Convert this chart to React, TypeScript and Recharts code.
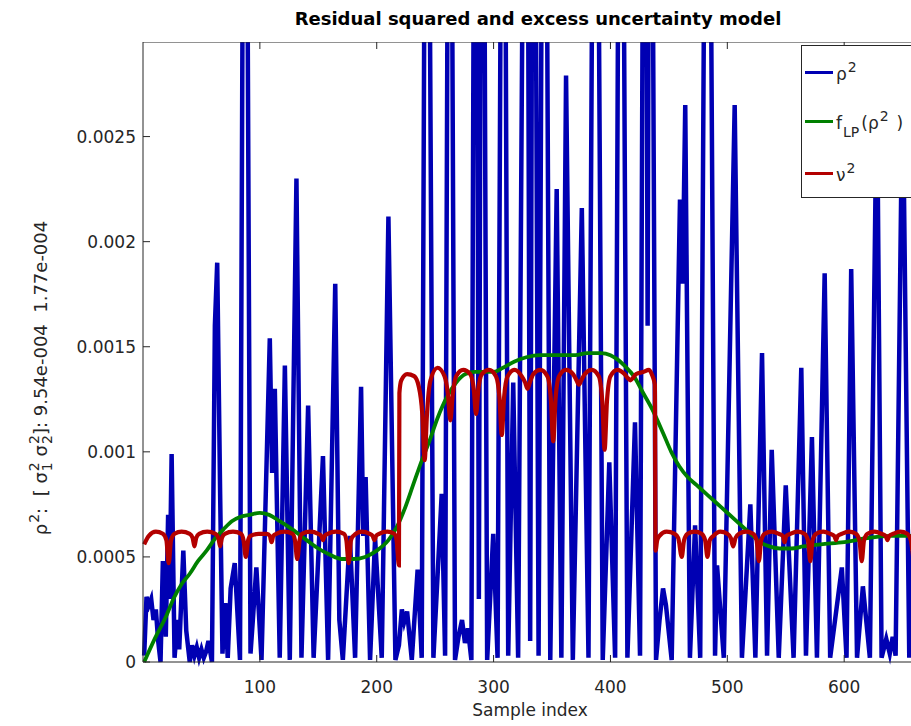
import React from "react";
import { LineChart, Line, XAxis, YAxis } from "recharts";

const FONT = "'DejaVu Sans', sans-serif";
const INK = "#262626";
const BLUE = "#0000b3";
const GREEN = "#008000";
const RED = "#b30000";

const xTicks = [100, 200, 300, 400, 500, 600];
const yTicks = [0, 0.0005, 0.001, 0.0015, 0.002, 0.0025];

// rho^2: [sample index, value], peaks and troughs of the residual
const rhoSqA = [
  [1, 0.00003], [3, 0.00031], [5, 0.00027], [7, 0.0003], [9, 0.0002], [11, 0.00025],
  [13, 0.0001], [15, 0.0], [17, 0.00048], [19.5, 0.00012], [21.5, 0.0007], [22.7, 0.0003],
  [24.5, 0.00099], [27, 0.00002], [29.5, 0.0002], [31, 0.00006], [34.5, 0.00053], [37, 0.00015],
  [40, 0.0], [42, 0.00008], [44, 0.00003], [46, 0.00007], [48, 0.00002], [50, 0.00006],
  [52, 0.00002], [54, 0.00005], [56, 0.0001], [59, 0.0], [61.5, 0.0016], [63.5, 0.0019],
  [66, 0.0008], [68, 0.00004], [70.5, 0.00028], [72.5, 0.00002], [75, 0.00035], [78.5, 0.00047],
  [83, 0.00001], [87.2, 0.006], [92, 0.00004], [94, 0.0002], [97, 0.00045], [101.4, 0.00001],
  [108.5, 0.00154], [110.5, 0.0009], [112.8, 0.0013], [117, 0.00002], [121.4, 0.00141],
  [125.6, 0.00001], [131.3, 0.0023], [135.6, 0.00002], [141.3, 0.00122], [146, 0.00002],
  [154, 0.00098], [158.4, 0.00001], [164.5, 0.0018],
];
const rhoSqB = [
  [168, 0.0002], [171, 0.00001], [177, 0.0006], [181.5, 0.00002], [186.6, 0.00131],
  [188.5, 0.0006], [190.5, 0.00088], [194.3, 0.00001], [198.6, 0.00059], [204.3, 0.00002],
  [210, 0.00212], [216, 0.00001], [219, 0.00008], [221.5, 0.00025], [223.5, 0.00019],
  [226, 0.00024], [230, 0.00001], [235, 0.00044], [238.5, 0.00002], [242.7, 0.006],
  [248.5, 0.00002], [255.6, 0.0008], [258.5, 0.00003], [262.4, 0.006], [267, 0.00001],
  [270, 0.00012], [273, 0.0002], [275.5, 0.00009], [278, 0.00016], [281, 0.00001],
  [284.6, 0.006], [287.4, 0.0003], [290.3, 0.006], [294.5, 0.00001], [299.7, 0.00061],
  [303.4, 0.00002], [308.3, 0.006], [312.5, 0.00003], [316.8, 0.00133], [321, 0.00002],
];
const rhoSqC = [
  [328, 0.006], [331.3, 0.0001], [334.2, 0.006], [338.5, 0.00003], [343.3, 0.006],
  [348.5, 0.00001], [354, 0.00225], [358, 0.00002], [362, 0.00279], [367.8, 0.00001],
  [375.5, 0.00216], [381.2, 0.00002], [387, 0.006], [393.4, 0.00001], [399, 0.00095],
  [404, 0.00002], [408.8, 0.006], [414.5, 0.00002], [421, 0.00114], [425.3, 0.00003],
  [429.6, 0.006], [431.8, 0.0016], [434, 0.006], [439, 0.00001], [442, 0.0002], [445, 0.00035],
  [447.5, 0.00027], [452.4, 0.00001], [459.5, 0.0022], [461.8, 0.0018], [464, 0.00265],
  [468, 0.00002], [472.4, 0.00065], [476.8, 0.00002], [483, 0.006], [489.5, 0.00003],
];
const rhoSqD = [
  [491.2, 0.00046], [497, 0.00002], [506.3, 0.00265], [512.5, 0.00002], [519.7, 0.00075],
  [524, 0.00002], [529.7, 0.00147], [534, 0.00003], [538, 0.00101], [544, 0.00002],
  [550, 0.00084], [556.7, 0.00002], [563.3, 0.0014], [567.3, 0.00003], [572.4, 0.00107],
  [576.7, 0.00002], [583.3, 0.00185], [588, 0.00002], [598, 0.00045], [602, 0.00002],
  [606, 0.00187], [611, 0.00002], [616, 0.00036], [622, 0.00002], [628, 0.0028], [632, 0.00002],
  [636, 0.00011], [639, 0.00004], [641.5, 0.00012], [644, 0.00003], [650, 0.0028],
  [655.7, 0.00002], [660, 0.0008],
];

// low-pass filtered rho^2
const fLpCurve = [
  [1, 0], [10, 0.00011], [20, 0.00022], [26, 0.0003], [33, 0.00037], [40, 0.00042],
  [47, 0.00048], [54.4, 0.00053], [62, 0.00059], [68.7, 0.00063], [76, 0.00067], [83, 0.00069],
  [91, 0.0007], [100, 0.00071], [108, 0.0007], [117, 0.00067], [128, 0.00063], [140, 0.00058],
  [150, 0.00054], [160, 0.00051], [170, 0.00049], [180, 0.00049], [190, 0.0005], [200, 0.00053],
  [210, 0.00058], [217, 0.00064], [224, 0.00073], [231, 0.00084], [238, 0.00095], [245, 0.00105],
  [252, 0.00116], [260, 0.00126], [268, 0.00133], [276, 0.00137], [284, 0.00138], [292, 0.00138],
  [300, 0.00138], [308, 0.0014], [318, 0.00143], [328, 0.00145], [340, 0.00146], [355, 0.00146],
  [370, 0.00146], [380, 0.00147], [392, 0.00147], [400, 0.00146], [406, 0.00144], [412, 0.00141],
  [420, 0.00136], [428, 0.00128], [436, 0.0012], [445, 0.00109], [452, 0.001], [459, 0.00093],
  [466, 0.00088], [474, 0.00084], [482, 0.0008], [490, 0.00076], [500, 0.00071], [510, 0.00066],
  [520, 0.00061], [528, 0.00057], [536, 0.00055], [545, 0.00054], [555, 0.00054], [565, 0.00055],
  [580, 0.00056], [600, 0.00057], [620, 0.00059], [640, 0.0006], [660, 0.0006],
];

// nu^2, excess uncertainty model: low level, raised block, low level
const nuSqLow1 = [
  [1, 0.00056], [5, 0.0006], [11, 0.00062], [17, 0.00061], [20, 0.00058], [22, 0.00047],
  [24, 0.00058], [27, 0.00061], [33, 0.00062], [40, 0.00061], [42.5, 0.00059], [44, 0.00055],
  [45.5, 0.00059], [48, 0.00061], [55, 0.00062], [62, 0.00061], [64.5, 0.00059], [66, 0.00055],
  [67.5, 0.00059], [70, 0.00061], [77, 0.00062], [84, 0.00061], [86, 0.00058], [88, 0.0005],
  [90, 0.00058], [92, 0.0006], [99, 0.00061], [106, 0.00061], [108.5, 0.0006], [110, 0.00057],
  [111.5, 0.0006], [114, 0.00061], [121, 0.00062], [128, 0.00061], [130, 0.00058], [132, 0.00049],
  [134, 0.00058], [136, 0.00061], [143, 0.00062], [150, 0.00061], [152.5, 0.0006], [154, 0.00058],
  [155.5, 0.0006], [158, 0.00061], [165, 0.00062], [172, 0.00061], [174, 0.00058], [176, 0.00047],
  [178, 0.00058], [180, 0.0006], [187, 0.00062], [194, 0.00061], [196.5, 0.0006], [198, 0.00058],
  [199.5, 0.0006], [202, 0.00061], [209, 0.00062], [215, 0.00061], [217, 0.00058], [219, 0.00046],
];
const nuSqHigh = [
  [219.4, 0.00128], [221, 0.00134], [226, 0.00137], [232, 0.00136], [236, 0.00131],
  [239, 0.00118], [241, 0.00096], [243, 0.00118], [246, 0.00134], [252, 0.0014], [258, 0.00136],
  [261, 0.00127], [263, 0.00115], [265, 0.00127], [268, 0.00136], [274, 0.00139], [280, 0.00137],
  [283, 0.0013], [285, 0.00118], [287, 0.0013], [290, 0.00137], [296, 0.00139], [302, 0.00136],
  [305, 0.00126], [307, 0.00108], [309, 0.00126], [312, 0.00136], [318, 0.00139], [324, 0.00136],
  [327, 0.00133], [329, 0.0013], [331, 0.00133], [334, 0.00137], [340, 0.00139], [346, 0.00136],
  [349, 0.00125], [351, 0.00105], [353, 0.00125], [356, 0.00136], [362, 0.00139], [368, 0.00137],
  [371, 0.00134], [373, 0.00132], [375, 0.00134], [378, 0.00137], [384, 0.00139], [390, 0.00136],
  [393, 0.00124], [395, 0.00101], [397, 0.00124], [400, 0.00136], [406, 0.00139], [412, 0.00137],
  [415, 0.00135], [417, 0.00134], [419, 0.00135], [422, 0.00137], [428, 0.00138], [433, 0.00139],
  [436, 0.00136], [438, 0.00132],
];
const nuSqLow2 = [
  [438.6, 0.00053], [440, 0.00058], [442, 0.0006], [448, 0.00062], [455, 0.00061], [458, 0.00059],
  [461, 0.0005], [463, 0.00058], [466, 0.00061], [472, 0.00062], [478, 0.00061], [481, 0.00058],
  [483, 0.0005], [485, 0.00058], [488, 0.0006], [494, 0.00062], [500, 0.00061], [503, 0.00059],
  [505, 0.00055], [507, 0.00059], [510, 0.00061], [516, 0.00062], [522, 0.00061], [525, 0.00058],
  [527, 0.00048], [529, 0.00058], [532, 0.00061], [538, 0.00062], [544, 0.00061], [547.5, 0.0006],
  [549, 0.00057], [550.5, 0.0006], [554, 0.00061], [560, 0.00062], [566, 0.00061], [569, 0.00058],
  [571, 0.00048], [573, 0.00058], [576, 0.00061], [582, 0.00062], [588, 0.00061], [591.5, 0.0006],
  [593, 0.00058], [594.5, 0.0006], [598, 0.00061], [604, 0.00062], [610, 0.00061], [613, 0.00058],
  [615, 0.00048], [617, 0.00058], [620, 0.00061], [626, 0.00062], [632, 0.00061], [635.5, 0.0006],
  [637, 0.00058], [638.5, 0.0006], [642, 0.00061], [648, 0.00062], [654, 0.00061], [657, 0.00058],
  [659, 0.0005],
];

const toPoints = (rows: number[][]) => rows.map(([x, y]) => ({ x, y }));
const rhoSq = toPoints([...rhoSqA, ...rhoSqB, ...rhoSqC, ...rhoSqD]);
const fLp = toPoints(fLpCurve);
const nuSq = toPoints([...nuSqLow1, ...nuSqHigh, ...nuSqLow2]);

const tickStyle = { fill: INK, fontSize: 17, fontFamily: FONT };

function Sup({ children, gap = 0 }: { children: React.ReactNode; gap?: number }) {
  return (
    <span style={{ fontSize: 14, position: "relative", top: -8, marginLeft: 1, marginRight: gap }}>{children}</span>
  );
}

function Sub({ children }: { children: React.ReactNode }) {
  return <span style={{ fontSize: 14, position: "relative", top: 8, marginLeft: 1, marginRight: 2 }}>{children}</span>;
}

// sigma with stacked super/subscript
function SigmaSq({ idx }: { idx: string }) {
  return (
    <span>
      σ
      <span style={{ display: "inline-block", position: "relative", width: 10, height: 1 }}>
        <span style={{ position: "absolute", left: 1, bottom: 5, fontSize: 14, lineHeight: "15px" }}>2</span>
        <span style={{ position: "absolute", left: 1, top: -6, fontSize: 14, lineHeight: "15px" }}>{idx}</span>
      </span>
    </span>
  );
}

function LegendRow({ y, color, children }: { y: number; color: string; children: React.ReactNode }) {
  return (
    <>
      <div style={{ position: "absolute", left: 3, top: y - 1.5, width: 28, height: 3, background: color }} />
      <div style={{ position: "absolute", left: 34, top: y - 6, fontSize: 17, lineHeight: "17px", whiteSpace: "nowrap" }}>
        {children}
      </div>
    </>
  );
}

export default function App() {
  return (
    <div
      style={{
        position: "absolute",
        left: 0,
        top: 0,
        width: 911,
        height: 726,
        overflow: "hidden",
        background: "#fff",
        fontFamily: FONT,
        color: INK,
      }}
    >
      {/* traces are left unclipped so the sharp troughs dip under the axis */}
      <style>{`.recharts-wrapper g[clip-path], .recharts-wrapper path[clip-path] { clip-path: none !important; }`}</style>
      <LineChart width={940} height={726} margin={{ top: 0, right: 7, bottom: 0, left: 0 }}>
        <XAxis
          type="number"
          dataKey="x"
          domain={[0, 676]}
          allowDataOverflow
          ticks={xTicks}
          height={64}
          tickSize={-7}
          tickMargin={26}
          tick={tickStyle}
          axisLine={{ stroke: INK }}
          tickLine={{ stroke: INK }}
        />
        <XAxis
          xAxisId="top"
          orientation="top"
          type="number"
          dataKey="x"
          domain={[0, 676]}
          allowDataOverflow
          ticks={xTicks}
          height={42}
          tickSize={-7}
          tickFormatter={() => ""}
          axisLine={{ stroke: INK }}
          tickLine={{ stroke: INK }}
        />
        <YAxis
          type="number"
          domain={[0, 0.00295]}
          allowDataOverflow
          ticks={yTicks}
          width={143}
          tickSize={-7}
          tickMargin={14}
          tick={tickStyle}
          tickFormatter={(v: number) => String(v)}
          axisLine={{ stroke: INK }}
          tickLine={{ stroke: INK }}
        />
        <Line
          data={rhoSq}
          dataKey="y"
          type="linear"
          stroke={BLUE}
          strokeWidth={4.5}
          strokeLinejoin="miter"
          strokeMiterlimit={5}
          dot={false}
          isAnimationActive={false}
        />
        <Line data={fLp} dataKey="y" type="monotone" stroke={GREEN} strokeWidth={3.8} dot={false} isAnimationActive={false} />
        <Line data={nuSq} dataKey="y" type="monotone" stroke={RED} strokeWidth={4.2} dot={false} isAnimationActive={false} />
      </LineChart>

      {/* white band above the axes box hides the tops of off-scale spikes */}
      <div style={{ position: "absolute", left: 0, top: 0, width: 911, height: 41.5, background: "#fff" }} />

      <div
        style={{
          position: "absolute",
          left: 143,
          width: 790,
          top: 10,
          textAlign: "center",
          fontWeight: "bold",
          fontSize: 18,
          lineHeight: "18px",
          color: "#000",
        }}
      >
        Residual squared and excess uncertainty model
      </div>

      <div style={{ position: "absolute", left: 430, width: 200, top: 702, textAlign: "center", fontSize: 17, lineHeight: "17px" }}>
        Sample index
      </div>

      <div
        style={{
          position: "absolute",
          left: 41,
          top: 378,
          transform: "translate(-50%, -50%) rotate(-90deg)",
          whiteSpace: "pre",
          fontSize: 18,
          lineHeight: "18px",
        }}
      >
        ρ<Sup>2</Sup>:  [ <SigmaSq idx="1" /> <SigmaSq idx="2" />]: 9.54e-004  1.77e-004
      </div>

      <div
        style={{
          position: "absolute",
          left: 801,
          top: 45,
          width: 130,
          height: 151,
          border: `1px solid ${INK}`,
          background: "#fff",
        }}
      >
        <LegendRow y={26} color={BLUE}>
          ρ<Sup>2</Sup>
        </LegendRow>
        <LegendRow y={75} color={GREEN}>
          f<Sub>LP</Sub>(ρ<Sup gap={8}>2</Sup>)
        </LegendRow>
        <LegendRow y={127} color={RED}>
          ν<Sup>2</Sup>
        </LegendRow>
      </div>
    </div>
  );
}
